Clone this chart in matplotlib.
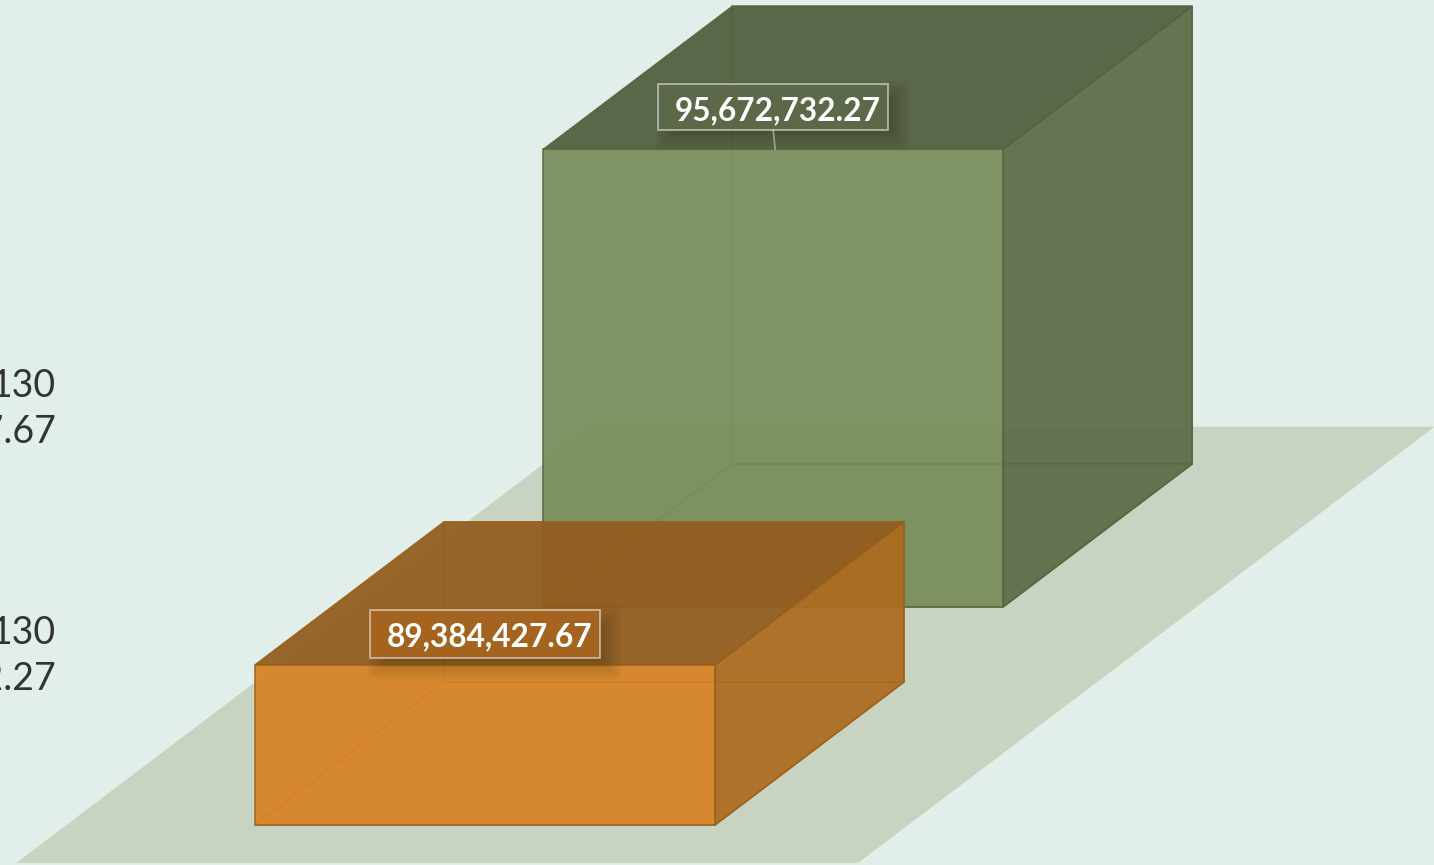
import matplotlib
matplotlib.use("Agg")
import matplotlib.pyplot as plt
from matplotlib.patches import Polygon, Rectangle
from matplotlib.transforms import IdentityTransform

# data, drawn back to front
categories = ["130", "130"]
values = [95672732.27, 89384427.67]
value_labels = ["95,672,732.27", "89,384,427.67"]
legend_values = ["89,384,427.67", "95,672,732.27"]

BASELINE = 86000000
PX_PER_UNIT = 47.3 / 1e6    # pixels for one unit of value
BAR_PX = 460                # bar width in pixels

# depth axis layout: one depth unit is the depth of a bar
depth_pos = [1.525, 0.0]
bar_left = [0.0, 0.0]
DEPTH_DX = 189 / BAR_PX
DEPTH_DY = 143 / PX_PER_UNIT

bg_color = "#e2eee9"
floor_color = "#c8d4c1"
colors = [
    {"front": "#788c5a", "top": "#515d3d", "side": "#5e6b47", "edge": "#56643e", "box": "#5c6948"},
    {"front": "#d78224", "top": "#925c1c", "side": "#ae6b20", "edge": "#99601a", "box": "#a4641f"},
]
label_offsets = [42, 31]   # label centre above the front top edge, pixels
box_heights = [46, 48]

fig = plt.figure(figsize=(14.34, 8.65), dpi=100, facecolor=bg_color)
ax = fig.add_axes([0, 0, 1, 1])
ax.set_xlim(-255 / BAR_PX, (1434 - 255) / BAR_PX)
ax.set_ylim(BASELINE - 40 / PX_PER_UNIT, BASELINE + 825 / PX_PER_UNIT)
ax.axis("off")


def project(u, v, value):
    """Oblique projection of width, depth and value onto the axes."""
    return (u + v * DEPTH_DX, value + v * DEPTH_DY)


def face(corners, facecolor, alpha, edge, zorder=2):
    points = [project(*c) for c in corners]
    ax.add_patch(Polygon(points, closed=True, facecolor=facecolor, alpha=alpha,
                         edgecolor=edge, linewidth=1.1, zorder=zorder))


# floor
face([(-0.41, -0.266, BASELINE), (1.42, -0.266, BASELINE),
      (1.42, 2.785, BASELINE), (-0.41, 2.785, BASELINE)], floor_color, 1, "none", 1)

for i in range(2):
    x0, x1 = bar_left[i], bar_left[i] + 1
    v0, v1 = depth_pos[i], depth_pos[i] + 1
    top = values[i]
    c = colors[i]

    # hidden faces, only their edges show through
    face([(x0, v0, BASELINE), (x1, v0, BASELINE), (x1, v1, BASELINE), (x0, v1, BASELINE)], "none", 0.7, c["edge"])
    face([(x0, v1, BASELINE), (x1, v1, BASELINE), (x1, v1, top), (x0, v1, top)], "none", 0.7, c["edge"])

    face([(x1, v0, BASELINE), (x1, v1, BASELINE), (x1, v1, top), (x1, v0, top)], c["side"], 0.93, c["edge"])
    face([(x0, v0, top), (x1, v0, top), (x1, v1, top), (x0, v1, top)], c["top"], 0.93, c["edge"])
    face([(x0, v0, BASELINE), (x1, v0, BASELINE), (x1, v0, top), (x0, v0, top)], c["front"], 0.93, c["edge"])

    # value label, placed in pixels from the bar's front top edge
    cx, cy = ax.transData.transform(project(x0 + 0.5, v0, top))
    cy += label_offsets[i]
    bw, bh = 230, box_heights[i]
    for k in range(12):
        grow = 12 - k * 2
        ax.add_patch(Rectangle((cx - bw / 2 + 9 - grow, cy - bh / 2 - 9 - grow),
                               bw + 2 * grow, bh + 2 * grow, facecolor="black", alpha=0.018,
                               edgecolor="none", transform=IdentityTransform(), zorder=3))
    ax.add_patch(Rectangle((cx - bw / 2, cy - bh / 2), bw, bh, facecolor=c["box"],
                           edgecolor="none", transform=IdentityTransform(), zorder=4))
    ax.add_patch(Rectangle((cx - bw / 2, cy - bh / 2), bw, bh, facecolor="none",
                           edgecolor="#ffffff", alpha=0.5, linewidth=1.4,
                           transform=IdentityTransform(), zorder=5))
    if i == 0:
        ax.plot([cx, cx + 2], [cy - bh / 2, cy - bh / 2 - 19], color="#9aa39a", linewidth=1.2,
                transform=IdentityTransform(), zorder=4)
    ax.text(cx + 5, cy - 3, value_labels[i], color="white", fontsize=22.8, fontfamily="Lato",
            fontweight="bold", ha="center", va="center", transform=IdentityTransform(), zorder=6)

# legend, cut off by the left edge of the picture
legend_y = [386, 633]
for i in range(2):
    for text, dy in ((categories[i], 0), (legend_values[i], 46)):
        ax.text(56, 865 - legend_y[i] - dy, text, color="#333333", fontsize=27, fontfamily="Lato",
                fontweight="normal", ha="right", va="center", transform=IdentityTransform(), zorder=6)

fig.savefig("out.png", dpi=100, facecolor=bg_color)
